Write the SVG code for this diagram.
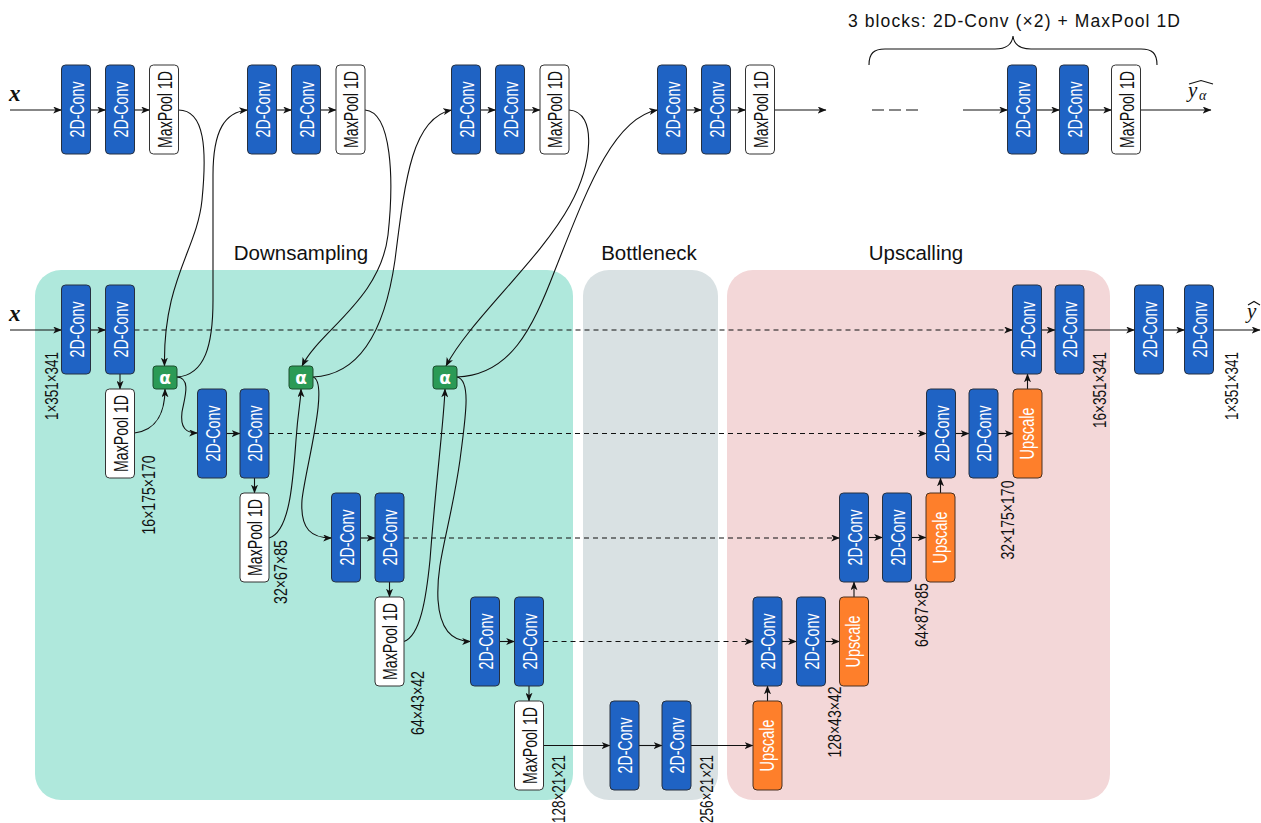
<svg xmlns="http://www.w3.org/2000/svg" width="1261" height="823" viewBox="0 0 1261 823">
<defs>
<marker id="ah" viewBox="0 0 10 8" refX="9.5" refY="4" markerWidth="9" markerHeight="7" markerUnits="userSpaceOnUse" orient="auto"><path d="M0,0 L10,4 L0,8 L2.6,4 z" fill="#111"/></marker>
<style>
.conv rect{fill:#1f63c4;stroke:#263040;stroke-width:1}
.mp rect{fill:#ffffff;stroke:#333;stroke-width:1}
.up rect{fill:#fe7f2b;stroke:#4a3020;stroke-width:1}
.al rect{fill:#2b9a56;stroke:#1d4f2f;stroke-width:1}
.conv text,.up text{fill:#fff}
.mp text{fill:#111}
text{font-family:"Liberation Sans",Arial,sans-serif}
.bt{font-size:21px;text-anchor:middle}
.al text{font-family:"DejaVu Sans",sans-serif;font-size:17px;font-weight:bold;fill:#fff;text-anchor:middle}
.dim{font-size:17.5px;text-anchor:middle;fill:#111}
.ttl{font-size:20.5px;text-anchor:middle;fill:#111}
.math{font-family:"Liberation Serif","DejaVu Serif",serif;fill:#111}
.e{fill:none;stroke:#111;stroke-width:1.1;marker-end:url(#ah)}
.d{stroke-dasharray:5 4}
.pl{fill:none;stroke:#111;stroke-width:1.1}
</style>
</defs>
<g id="panels">
<rect x="35" y="270" width="538" height="530" rx="26" fill="#afe8dc"/>
<rect x="583" y="270" width="135" height="530" rx="26" fill="#d9e1e3"/>
<rect x="727" y="270" width="383" height="530" rx="26" fill="#f3d7d8"/>
<text class="ttl" x="301" y="260">Downsampling</text>
<text class="ttl" x="649" y="260">Bottleneck</text>
<text class="ttl" x="916" y="260">Upscalling</text>
</g>
<g id="caption">
<path class="pl" d="M869,65 C869,53 874,49 885,49 L995,49 C1006,49 1012,45 1013,36 C1014,45 1020,49 1031,49 L1141,49 C1152,49 1157,53 1157,65"/>
<text x="1014" y="27" font-size="17.5" text-anchor="middle" textLength="332" fill="#111">3 blocks: 2D-Conv (×2) + MaxPool 1D</text>
</g>
<g id="math-labels">
<text class="math" x="9" y="101" font-size="23" font-style="italic" font-weight="bold">x</text>
<text class="math" x="9" y="321" font-size="23" font-style="italic" font-weight="bold">x</text>
<text class="math" x="1188" y="97" font-size="21" font-style="italic">y</text>
<text class="math" x="1199" y="100" font-size="14" font-style="italic">α</text>
<path class="pl" d="M1189,84 L1201,80.5 L1213,84" stroke-width="0.9"/>
<text class="math" x="1247" y="318" font-size="21" font-style="italic">y</text>
<path class="pl" d="M1248,305 L1254,301.5 L1260,305" stroke-width="0.9"/>
</g>
<g id="connectors">
<path class="e" d="M10,110 H61.5"/>
<path class="e" d="M90.5,110 H105.5"/>
<path class="e" d="M134.5,110 H149.5"/>
<path class="e" d="M276.5,110 H291.5"/>
<path class="e" d="M320.5,110 H336"/>
<path class="e" d="M480.5,110 H495.5"/>
<path class="e" d="M524.5,110 H540"/>
<path class="e" d="M686.5,110 H701.5"/>
<path class="e" d="M730.5,110 H745.5"/>
<path class="e" d="M774.5,110 H826"/>
<path class="pl" d="M872,110 H918" stroke-dasharray="12 5"/>
<path class="e" d="M963,110 H1007.5"/>
<path class="e" d="M1036.5,110 H1059.5"/>
<path class="e" d="M1088.5,110 H1111.5"/>
<path class="e" d="M1140.5,110 H1211"/>
<path class="e" d="M178.5,110 C205,110 207,150 202,200 C197,250 163,280 164.5,366"/>
<path class="e" d="M177,377 C205,375 213,345 213,300 L213,175 C213,130 225,112 247.5,110"/>
<path class="e" d="M365,110 C392,112 394,180 388,235 C380,300 320,330 302,366"/>
<path class="e" d="M313,377 C360,375 385,330 395,260 C405,180 412,118 451.5,110"/>
<path class="e" d="M569,110 C598,112 592,165 570,205 C540,260 470,320 446,366"/>
<path class="e" d="M457,377 C510,375 532,330 555,270 C585,195 612,118 657.5,110"/>
<path class="e" d="M10,330 H61.5"/>
<path class="e" d="M90.5,330 H105.5"/>
<path class="e d" d="M134.5,330 H1012.5"/>
<path class="e" d="M120,374 V389"/>
<path class="e" d="M134.5,433 C158,430 165,410 165,389"/>
<path class="e" d="M177,377 C192,378 184,400 182,412 C180,428 186,433 197.5,433"/>
<path class="e" d="M226.5,433.5 H240"/>
<path class="e d" d="M269,433.5 H926.5"/>
<path class="e" d="M254.5,478 V493"/>
<path class="e" d="M269,538 C290,532 293,480 296,440 C298,410 301,400 301,389"/>
<path class="e" d="M313,377 C330,382 305,470 302,500 C300,530 312,538 331.5,538"/>
<path class="e" d="M360.5,538 H375"/>
<path class="e d" d="M404,538 H839.5"/>
<path class="e" d="M389.5,582 V597"/>
<path class="e" d="M404,641.5 C420,636 426,600 430,560 C436,480 444,420 445,389"/>
<path class="e" d="M457,377 C472,380 465,420 460,460 C450,530 436,560 438,600 C440,630 452,641.5 470.5,641.5"/>
<path class="e" d="M499.5,641.5 H514.5"/>
<path class="e d" d="M543.5,641.5 H753"/>
<path class="e" d="M529,686 V701"/>
<path class="e" d="M543.5,745.5 H610"/>
<path class="e" d="M639,745.5 H662"/>
<path class="e" d="M691,745.5 H753"/>
<path class="e" d="M767.5,701 V686"/>
<path class="e" d="M782,641.5 H796.5"/>
<path class="e" d="M825.5,641.5 H839.5"/>
<path class="e" d="M854,597 V582"/>
<path class="e" d="M868.5,537.5 H882.5"/>
<path class="e" d="M911.5,537.5 H926"/>
<path class="e" d="M940.5,493 V478"/>
<path class="e" d="M955.5,433.5 H969"/>
<path class="e" d="M998,433.5 H1013"/>
<path class="e" d="M1027.5,389 V374"/>
<path class="e" d="M1041.5,330 H1055"/>
<path class="e" d="M1084,330 H1134.5"/>
<path class="e" d="M1163.5,330 H1184.5"/>
<path class="e" d="M1213.5,330 H1260"/>
</g>
<g id="t1a" class="conv"><rect x="61.5" y="65" width="29" height="89" rx="4"/><text class="bt" transform="translate(83.5,109.5) rotate(-90)" textLength="56" lengthAdjust="spacingAndGlyphs">2D-Conv</text></g>
<g id="t1b" class="conv"><rect x="105.5" y="65" width="29" height="89" rx="4"/><text class="bt" transform="translate(127.5,109.5) rotate(-90)" textLength="56" lengthAdjust="spacingAndGlyphs">2D-Conv</text></g>
<g id="t1p" class="mp"><rect x="149.5" y="65" width="29" height="89" rx="4"/><text class="bt" transform="translate(171.5,109.5) rotate(-90)" textLength="77" lengthAdjust="spacingAndGlyphs">MaxPool 1D</text></g>
<g id="t2a" class="conv"><rect x="247.5" y="65" width="29" height="89" rx="4"/><text class="bt" transform="translate(269.5,109.5) rotate(-90)" textLength="56" lengthAdjust="spacingAndGlyphs">2D-Conv</text></g>
<g id="t2b" class="conv"><rect x="291.5" y="65" width="29" height="89" rx="4"/><text class="bt" transform="translate(313.5,109.5) rotate(-90)" textLength="56" lengthAdjust="spacingAndGlyphs">2D-Conv</text></g>
<g id="t2p" class="mp"><rect x="336" y="65" width="29" height="89" rx="4"/><text class="bt" transform="translate(358,109.5) rotate(-90)" textLength="77" lengthAdjust="spacingAndGlyphs">MaxPool 1D</text></g>
<g id="t3a" class="conv"><rect x="451.5" y="65" width="29" height="89" rx="4"/><text class="bt" transform="translate(473.5,109.5) rotate(-90)" textLength="56" lengthAdjust="spacingAndGlyphs">2D-Conv</text></g>
<g id="t3b" class="conv"><rect x="495.5" y="65" width="29" height="89" rx="4"/><text class="bt" transform="translate(517.5,109.5) rotate(-90)" textLength="56" lengthAdjust="spacingAndGlyphs">2D-Conv</text></g>
<g id="t3p" class="mp"><rect x="540" y="65" width="29" height="89" rx="4"/><text class="bt" transform="translate(562,109.5) rotate(-90)" textLength="77" lengthAdjust="spacingAndGlyphs">MaxPool 1D</text></g>
<g id="t4a" class="conv"><rect x="657.5" y="65" width="29" height="89" rx="4"/><text class="bt" transform="translate(679.5,109.5) rotate(-90)" textLength="56" lengthAdjust="spacingAndGlyphs">2D-Conv</text></g>
<g id="t4b" class="conv"><rect x="701.5" y="65" width="29" height="89" rx="4"/><text class="bt" transform="translate(723.5,109.5) rotate(-90)" textLength="56" lengthAdjust="spacingAndGlyphs">2D-Conv</text></g>
<g id="t4p" class="mp"><rect x="745.5" y="65" width="29" height="89" rx="4"/><text class="bt" transform="translate(767.5,109.5) rotate(-90)" textLength="77" lengthAdjust="spacingAndGlyphs">MaxPool 1D</text></g>
<g id="t5a" class="conv"><rect x="1007.5" y="65" width="29" height="89" rx="4"/><text class="bt" transform="translate(1029.5,109.5) rotate(-90)" textLength="56" lengthAdjust="spacingAndGlyphs">2D-Conv</text></g>
<g id="t5b" class="conv"><rect x="1059.5" y="65" width="29" height="89" rx="4"/><text class="bt" transform="translate(1081.5,109.5) rotate(-90)" textLength="56" lengthAdjust="spacingAndGlyphs">2D-Conv</text></g>
<g id="t5p" class="mp"><rect x="1111.5" y="65" width="29" height="89" rx="4"/><text class="bt" transform="translate(1133.5,109.5) rotate(-90)" textLength="77" lengthAdjust="spacingAndGlyphs">MaxPool 1D</text></g>
<g id="d0a" class="conv"><rect x="61.5" y="285" width="29" height="89" rx="4"/><text class="bt" transform="translate(83.5,329.5) rotate(-90)" textLength="56" lengthAdjust="spacingAndGlyphs">2D-Conv</text></g>
<g id="d0b" class="conv"><rect x="105.5" y="285" width="29" height="89" rx="4"/><text class="bt" transform="translate(127.5,329.5) rotate(-90)" textLength="56" lengthAdjust="spacingAndGlyphs">2D-Conv</text></g>
<g id="d0p" class="mp"><rect x="105.5" y="389" width="29" height="89" rx="4"/><text class="bt" transform="translate(127.5,433.5) rotate(-90)" textLength="77" lengthAdjust="spacingAndGlyphs">MaxPool 1D</text></g>
<g id="a1" class="al"><rect x="153" y="366" width="24" height="23" rx="3"/><text x="165" y="383.5">α</text></g>
<g id="d1a" class="conv"><rect x="197.5" y="389" width="29" height="89" rx="4"/><text class="bt" transform="translate(219.5,433.5) rotate(-90)" textLength="56" lengthAdjust="spacingAndGlyphs">2D-Conv</text></g>
<g id="d1b" class="conv"><rect x="240" y="389" width="29" height="89" rx="4"/><text class="bt" transform="translate(262,433.5) rotate(-90)" textLength="56" lengthAdjust="spacingAndGlyphs">2D-Conv</text></g>
<g id="d1p" class="mp"><rect x="240" y="493" width="29" height="89" rx="4"/><text class="bt" transform="translate(262,537.5) rotate(-90)" textLength="77" lengthAdjust="spacingAndGlyphs">MaxPool 1D</text></g>
<g id="a2" class="al"><rect x="289" y="366" width="24" height="23" rx="3"/><text x="301" y="383.5">α</text></g>
<g id="d2a" class="conv"><rect x="331.5" y="493" width="29" height="89" rx="4"/><text class="bt" transform="translate(353.5,537.5) rotate(-90)" textLength="56" lengthAdjust="spacingAndGlyphs">2D-Conv</text></g>
<g id="d2b" class="conv"><rect x="375" y="493" width="29" height="89" rx="4"/><text class="bt" transform="translate(397,537.5) rotate(-90)" textLength="56" lengthAdjust="spacingAndGlyphs">2D-Conv</text></g>
<g id="d2p" class="mp"><rect x="375" y="597" width="29" height="89" rx="4"/><text class="bt" transform="translate(397,641.5) rotate(-90)" textLength="77" lengthAdjust="spacingAndGlyphs">MaxPool 1D</text></g>
<g id="a3" class="al"><rect x="433" y="366" width="24" height="23" rx="3"/><text x="445" y="383.5">α</text></g>
<g id="d3a" class="conv"><rect x="470.5" y="597" width="29" height="89" rx="4"/><text class="bt" transform="translate(492.5,641.5) rotate(-90)" textLength="56" lengthAdjust="spacingAndGlyphs">2D-Conv</text></g>
<g id="d3b" class="conv"><rect x="514.5" y="597" width="29" height="89" rx="4"/><text class="bt" transform="translate(536.5,641.5) rotate(-90)" textLength="56" lengthAdjust="spacingAndGlyphs">2D-Conv</text></g>
<g id="d3p" class="mp"><rect x="514.5" y="701" width="29" height="89" rx="4"/><text class="bt" transform="translate(536.5,745.5) rotate(-90)" textLength="77" lengthAdjust="spacingAndGlyphs">MaxPool 1D</text></g>
<g id="b1" class="conv"><rect x="610" y="701" width="29" height="89" rx="4"/><text class="bt" transform="translate(632,745.5) rotate(-90)" textLength="56" lengthAdjust="spacingAndGlyphs">2D-Conv</text></g>
<g id="b2" class="conv"><rect x="662" y="701" width="29" height="89" rx="4"/><text class="bt" transform="translate(684,745.5) rotate(-90)" textLength="56" lengthAdjust="spacingAndGlyphs">2D-Conv</text></g>
<g id="u3s" class="up"><rect x="753" y="701" width="29" height="89" rx="4"/><text class="bt" transform="translate(773.5,745.5) rotate(-90)" textLength="52" lengthAdjust="spacingAndGlyphs">Upscale</text></g>
<g id="u3a" class="conv"><rect x="753" y="597" width="29" height="89" rx="4"/><text class="bt" transform="translate(775,641.5) rotate(-90)" textLength="56" lengthAdjust="spacingAndGlyphs">2D-Conv</text></g>
<g id="u3b" class="conv"><rect x="796.5" y="597" width="29" height="89" rx="4"/><text class="bt" transform="translate(818.5,641.5) rotate(-90)" textLength="56" lengthAdjust="spacingAndGlyphs">2D-Conv</text></g>
<g id="u2s" class="up"><rect x="839.5" y="597" width="29" height="89" rx="4"/><text class="bt" transform="translate(860,641.5) rotate(-90)" textLength="52" lengthAdjust="spacingAndGlyphs">Upscale</text></g>
<g id="u2a" class="conv"><rect x="839.5" y="493" width="29" height="89" rx="4"/><text class="bt" transform="translate(861.5,537.5) rotate(-90)" textLength="56" lengthAdjust="spacingAndGlyphs">2D-Conv</text></g>
<g id="u2b" class="conv"><rect x="882.5" y="493" width="29" height="89" rx="4"/><text class="bt" transform="translate(904.5,537.5) rotate(-90)" textLength="56" lengthAdjust="spacingAndGlyphs">2D-Conv</text></g>
<g id="u1s" class="up"><rect x="926" y="493" width="29" height="89" rx="4"/><text class="bt" transform="translate(946.5,537.5) rotate(-90)" textLength="52" lengthAdjust="spacingAndGlyphs">Upscale</text></g>
<g id="u1a" class="conv"><rect x="926.5" y="389" width="29" height="89" rx="4"/><text class="bt" transform="translate(948.5,433.5) rotate(-90)" textLength="56" lengthAdjust="spacingAndGlyphs">2D-Conv</text></g>
<g id="u1b" class="conv"><rect x="969" y="389" width="29" height="89" rx="4"/><text class="bt" transform="translate(991,433.5) rotate(-90)" textLength="56" lengthAdjust="spacingAndGlyphs">2D-Conv</text></g>
<g id="u0s" class="up"><rect x="1013" y="389" width="29" height="89" rx="4"/><text class="bt" transform="translate(1033.5,433.5) rotate(-90)" textLength="52" lengthAdjust="spacingAndGlyphs">Upscale</text></g>
<g id="u0a" class="conv"><rect x="1012.5" y="285" width="29" height="89" rx="4"/><text class="bt" transform="translate(1034.5,329.5) rotate(-90)" textLength="56" lengthAdjust="spacingAndGlyphs">2D-Conv</text></g>
<g id="u0b" class="conv"><rect x="1055" y="285" width="29" height="89" rx="4"/><text class="bt" transform="translate(1077,329.5) rotate(-90)" textLength="56" lengthAdjust="spacingAndGlyphs">2D-Conv</text></g>
<g id="o1" class="conv"><rect x="1134.5" y="285" width="29" height="89" rx="4"/><text class="bt" transform="translate(1156.5,329.5) rotate(-90)" textLength="56" lengthAdjust="spacingAndGlyphs">2D-Conv</text></g>
<g id="o2" class="conv"><rect x="1184.5" y="285" width="29" height="89" rx="4"/><text class="bt" transform="translate(1206.5,329.5) rotate(-90)" textLength="56" lengthAdjust="spacingAndGlyphs">2D-Conv</text></g>
<g id="dims">
<text class="dim" transform="translate(57.5,386) rotate(-90)" textLength="68" lengthAdjust="spacingAndGlyphs">1×351×341</text>
<text class="dim" transform="translate(154.5,495) rotate(-90)" textLength="79" lengthAdjust="spacingAndGlyphs">16×175×170</text>
<text class="dim" transform="translate(286.5,572) rotate(-90)" textLength="64" lengthAdjust="spacingAndGlyphs">32×67×85</text>
<text class="dim" transform="translate(423.5,703) rotate(-90)" textLength="64" lengthAdjust="spacingAndGlyphs">64×43×42</text>
<text class="dim" transform="translate(564.5,789) rotate(-90)" textLength="68" lengthAdjust="spacingAndGlyphs">128×21×21</text>
<text class="dim" transform="translate(712.5,789) rotate(-90)" textLength="68" lengthAdjust="spacingAndGlyphs">256×21×21</text>
<text class="dim" transform="translate(840.5,722) rotate(-90)" textLength="71" lengthAdjust="spacingAndGlyphs">128×43×42</text>
<text class="dim" transform="translate(927.5,615) rotate(-90)" textLength="64" lengthAdjust="spacingAndGlyphs">64×87×85</text>
<text class="dim" transform="translate(1013.5,520) rotate(-90)" textLength="79" lengthAdjust="spacingAndGlyphs">32×175×170</text>
<text class="dim" transform="translate(1105.5,390) rotate(-90)" textLength="76" lengthAdjust="spacingAndGlyphs">16×351×341</text>
<text class="dim" transform="translate(1237.5,386) rotate(-90)" textLength="68" lengthAdjust="spacingAndGlyphs">1×351×341</text>
</g>
</svg>
